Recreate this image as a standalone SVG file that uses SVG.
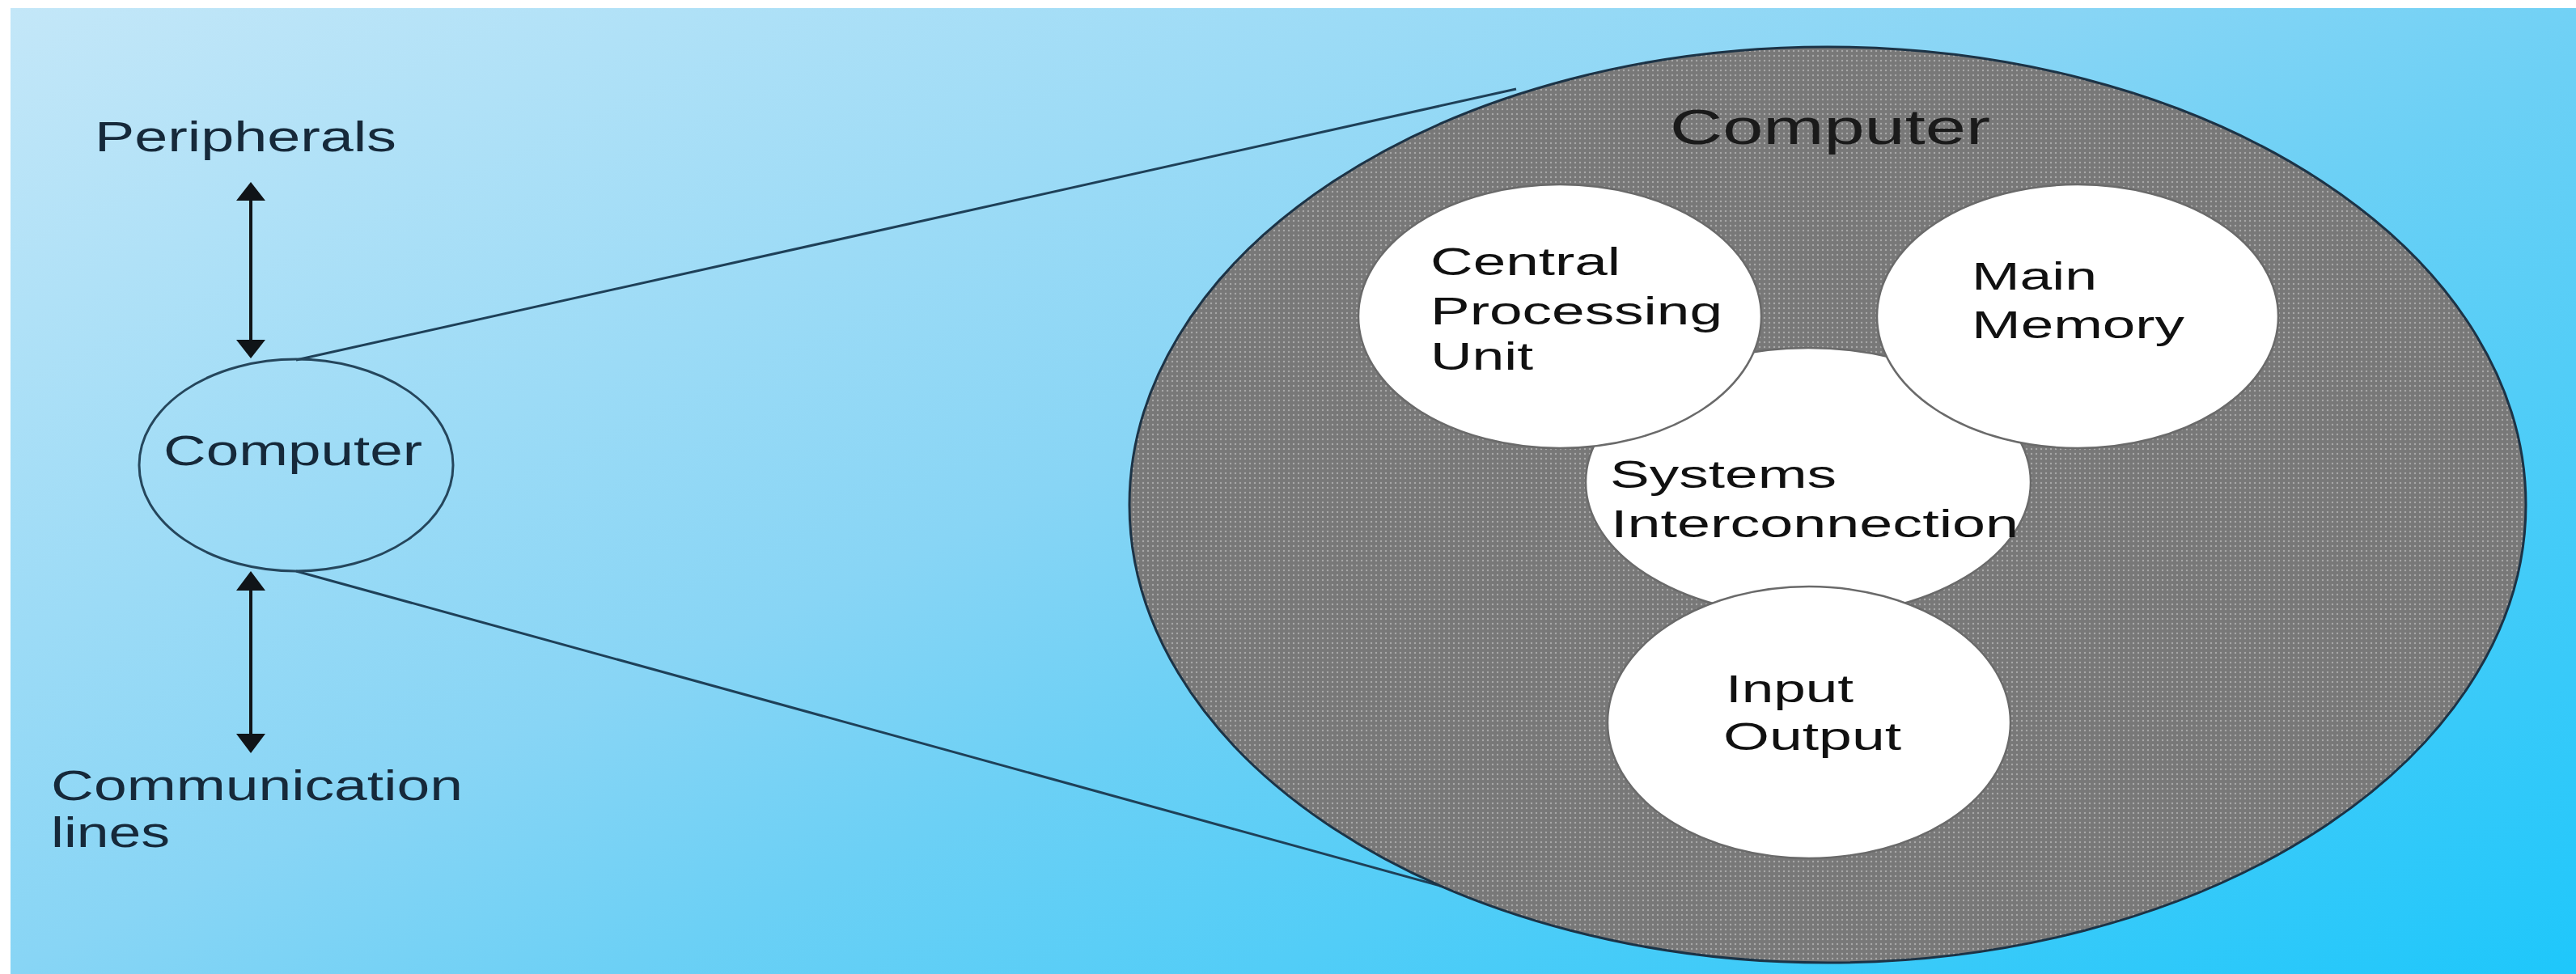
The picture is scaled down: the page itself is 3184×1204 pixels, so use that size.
<svg xmlns="http://www.w3.org/2000/svg" width="3184" height="1204" viewBox="0 0 3184 1204">
<defs>
<linearGradient id="bg" gradientUnits="userSpaceOnUse" x1="0" y1="0" x2="1019" y2="2204">
<stop offset="0" stop-color="#c4e7f8"/>
<stop offset="0.45" stop-color="#88d5f5"/>
<stop offset="0.58" stop-color="#6cd0f5"/>
<stop offset="1" stop-color="#1ec7fb"/>
</linearGradient>
<pattern id="dots" width="6" height="6" patternUnits="userSpaceOnUse">
<rect width="6" height="6" fill="#787878"/>
<circle cx="3" cy="3" r="1.2" fill="#a8a8a8"/>
</pattern>
<style>
.lbl{font-family:"Liberation Sans",Arial,sans-serif;fill:#16293a;font-size:51px}
.in{font-family:"Liberation Sans",Arial,sans-serif;fill:#111111;font-size:48px}
.title{font-family:"Liberation Sans",Arial,sans-serif;fill:#1a1a1a;font-size:61px}
.conn{stroke:#1e4058;stroke-width:3;fill:none}
.arr{stroke:#101418;stroke-width:4;fill:none}
.head{fill:#101418}
.unit{fill:#ffffff;stroke:#6a6a6a;stroke-width:2.5}
</style>
</defs>
<rect x="0" y="0" width="3184" height="1204" fill="#ffffff"/>
<rect x="13" y="10" width="3171" height="1194" fill="url(#bg)"/>

<g id="connectors">
<line class="conn" x1="366" y1="445" x2="1874" y2="110"/>
<line class="conn" x1="366" y1="706" x2="1802" y2="1101"/>
<line class="arr" x1="310" y1="245" x2="310" y2="423"/>
<path class="head" d="M310,225 L328,248 L292,248 Z"/>
<path class="head" d="M310,443 L328,420 L292,420 Z"/>
<line class="arr" x1="310" y1="728" x2="310" y2="909"/>
<path class="head" d="M310,706 L328,730 L292,730 Z"/>
<path class="head" d="M310,931 L328,907 L292,907 Z"/>
</g>

<g id="peripherals">
<text class="lbl" x="117" y="187" textLength="373" lengthAdjust="spacingAndGlyphs">Peripherals</text>
</g>

<g id="communication-lines">
<text class="lbl" x="63" y="989" textLength="509" lengthAdjust="spacingAndGlyphs">Communication</text>
<text class="lbl" x="63" y="1047" textLength="147" lengthAdjust="spacingAndGlyphs">lines</text>
</g>

<g id="computer-small">
<ellipse cx="366" cy="575" rx="194" ry="131" fill="none" stroke="#25465c" stroke-width="3"/>
<text class="lbl" x="202" y="575" textLength="320" lengthAdjust="spacingAndGlyphs">Computer</text>
</g>

<g id="computer-large">
<ellipse cx="2259" cy="624" rx="863" ry="566" fill="url(#dots)" stroke="#1c3346" stroke-width="3"/>
<text class="title" x="2064" y="178" textLength="396" lengthAdjust="spacingAndGlyphs">Computer</text>
</g>

<g id="systems-interconnection">
<ellipse class="unit" cx="2235" cy="596" rx="275" ry="166"/>
<text class="in" x="1990" y="603" textLength="280" lengthAdjust="spacingAndGlyphs">Systems</text>
<text class="in" x="1991" y="664" textLength="504" lengthAdjust="spacingAndGlyphs">Interconnection</text>
</g>

<g id="cpu">
<ellipse class="unit" cx="1928" cy="391" rx="249" ry="163"/>
<text class="in" x="1768" y="340" textLength="235" lengthAdjust="spacingAndGlyphs">Central</text>
<text class="in" x="1768" y="401" textLength="361" lengthAdjust="spacingAndGlyphs">Processing</text>
<text class="in" x="1768" y="457" textLength="127" lengthAdjust="spacingAndGlyphs">Unit</text>
</g>

<g id="main-memory">
<ellipse class="unit" cx="2568" cy="391" rx="248" ry="163"/>
<text class="in" x="2437" y="358" textLength="155" lengthAdjust="spacingAndGlyphs">Main</text>
<text class="in" x="2437" y="418" textLength="263" lengthAdjust="spacingAndGlyphs">Memory</text>
</g>

<g id="input-output">
<ellipse class="unit" cx="2236" cy="893" rx="249" ry="168"/>
<text class="in" x="2133" y="868" textLength="158" lengthAdjust="spacingAndGlyphs">Input</text>
<text class="in" x="2130" y="927" textLength="220" lengthAdjust="spacingAndGlyphs">Output</text>
</g>
</svg>
